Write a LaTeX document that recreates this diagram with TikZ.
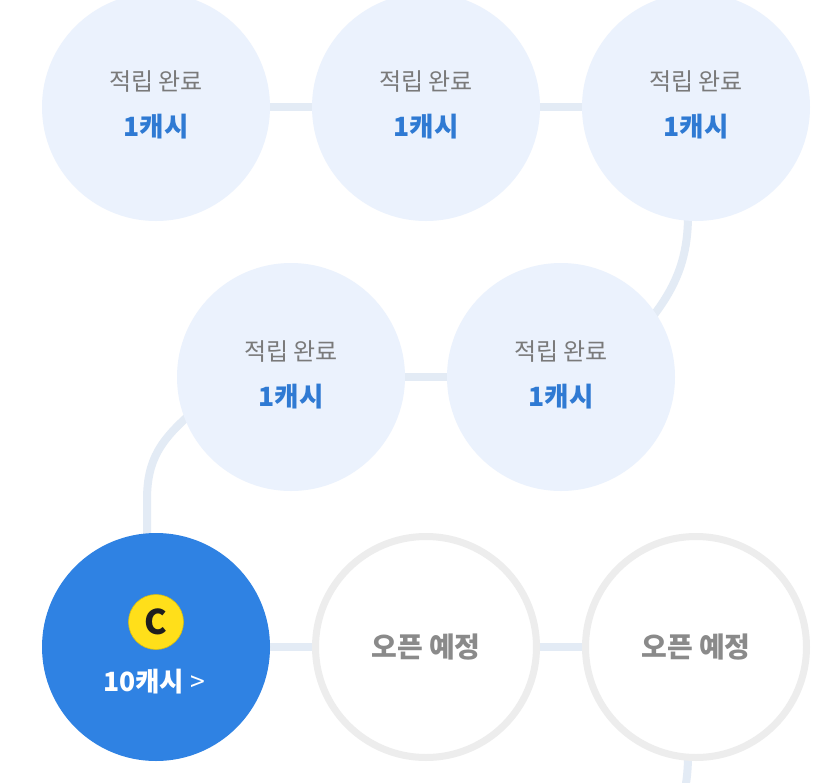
\documentclass[tikz,border=0pt]{standalone}
\usepackage{fontspec}
\setmainfont{Noto Sans CJK KR}
\usetikzlibrary{calc}
\pgfdeclarelayer{bg}
\pgfsetlayers{bg,main}
\definecolor{linec}{HTML}{E3EBF5}
\definecolor{donefill}{HTML}{EBF2FD}
\definecolor{graytxt}{HTML}{7A7A7A}
\definecolor{bluetxt}{HTML}{2F7AD3}
\definecolor{bluefill}{HTML}{2F82E3}
\definecolor{openring}{HTML}{EDEDED}
\definecolor{opentxt}{HTML}{8A8A8A}
\definecolor{coinfill}{HTML}{FFDF1A}
\definecolor{coinedge}{HTML}{D9BE10}
\definecolor{coinc}{HTML}{1E1E1E}
\begin{document}
\begin{tikzpicture}[x=1pt,y=-1pt,
  donec/.style={circle, fill=donefill, minimum size=228pt, inner sep=0pt},
  curc/.style={circle, fill=bluefill, minimum size=228pt, inner sep=0pt},
  openc/.style={circle, fill=white, draw=openring, line width=7pt, minimum size=221pt, inner sep=0pt},
  conn/.style={draw=linec, line width=8pt},
  donelbl/.style={font=\fontsize{24}{26}\selectfont, text=graytxt, inner sep=0pt},
  cashlbl/.style={font=\bfseries\fontsize{26.5}{28}\selectfont, text=bluetxt, inner sep=0pt},
  openlbl/.style={font=\bfseries\fontsize{28}{30}\selectfont, text=opentxt, inner sep=0pt},
  coinstyle/.style={circle, fill=coinfill, draw=coinedge, line width=0.6pt, minimum size=55pt, inner sep=0pt, font=\bfseries\fontsize{34}{34}\selectfont, text=coinc},
  curlbl/.style={font=\bfseries\fontsize{26.5}{28}\selectfont, text=white, inner sep=0pt}
]
\useasboundingbox (0,0) rectangle (830,782);
\clip (0,0) rectangle (830,782);

% circles
\node[donec] (c1) at (156,107) {};
\node[donec] (c2) at (426,107) {};
\node[donec] (c3) at (696,107) {};
\node[donec] (c4) at (291,377) {};
\node[donec] (c5) at (561,377) {};
\node[curc]  (c6) at (156,647) {};
\node[openc] (c7) at (426,647) {};
\node[openc] (c8) at (696,647) {};

% connectors
\begin{pgfonlayer}{bg}
\fill[white] (0,0) rectangle (830,782);
\draw[conn] (c1) -- (c2);
\draw[conn] (c2) -- (c3);
\draw[conn] (c4) -- (c5);
\draw[conn] (c6) -- (c7);
\draw[conn] (c7) -- (c8);
\draw[conn] ($(c3.center)+(-8,0)$) -- ($(c3.center)+(-8,108)$)
  .. controls ($(c3.center)+(-8,148)$) and ($(c3.center)+(-18,178)$) .. ($(c3.center)+(-46,213)$) -- (c5.center);
\draw[conn] (c4.center) -- ($(c4.center)+(-96,33)$)
  .. controls ($(c4.center)+(-131,63)$) and ($(c4.center)+(-144,83)$) .. ($(c4.center)+(-144,123)$) -- ($(c6.center)+(-9,0)$);
\coordinate (nextrow) at ($(c8.center)+(-46,213)$);
\draw[conn] ($(c8.center)+(-8,0)$) -- ($(c8.center)+(-8,108)$)
  .. controls ($(c8.center)+(-8,148)$) and ($(c8.center)+(-18,178)$) .. (nextrow);
\end{pgfonlayer}

% labels
\node[donelbl] (d1) at ($(c1)+(0,-25)$) {적립 완료};
\node[cashlbl] (m1) at ($(c1)+(0,20)$) {1캐시};
\node[donelbl] (d2) at ($(c2)+(0,-25)$) {적립 완료};
\node[cashlbl] (m2) at ($(c2)+(0,20)$) {1캐시};
\node[donelbl] (d3) at ($(c3)+(0,-25)$) {적립 완료};
\node[cashlbl] (m3) at ($(c3)+(0,20)$) {1캐시};
\node[donelbl] (d4) at ($(c4)+(0,-25)$) {적립 완료};
\node[cashlbl] (m4) at ($(c4)+(0,20)$) {1캐시};
\node[donelbl] (d5) at ($(c5)+(0,-25)$) {적립 완료};
\node[cashlbl] (m5) at ($(c5)+(0,20)$) {1캐시};

\node[coinstyle] (coin) at ($(c6)+(0,-25)$) {C};
\node[curlbl] (cur) at ($(c6)+(-2,35)$) {10캐시 {\mdseries >}};

\node[openlbl] (o7) at (c7) {오픈 예정};
\node[openlbl] (o8) at (c8) {오픈 예정};
\end{tikzpicture}
\end{document}
